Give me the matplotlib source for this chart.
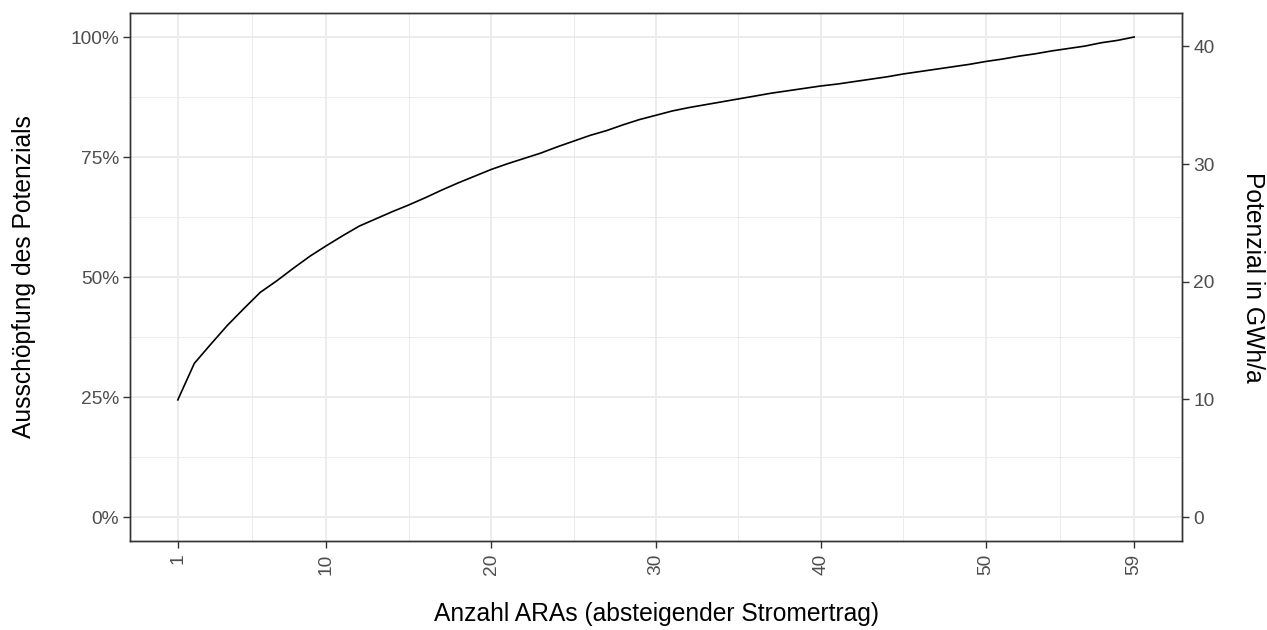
import matplotlib
matplotlib.use("Agg")
import matplotlib.pyplot as plt
from matplotlib.ticker import FixedLocator, FuncFormatter

# ---- data -------------------------------------------------------------
ara_index = list(range(1, 60))
cum_share_pct = [
    24.4, 32.0, 36.0, 39.9, 43.4, 46.8, 49.2, 51.8, 54.3, 56.5,
    58.6, 60.6, 62.1, 63.6, 65.0, 66.5, 68.1, 69.6, 71.0, 72.4,
    73.6, 74.7, 75.8, 77.1, 78.3, 79.5, 80.5, 81.7, 82.8, 83.7,
    84.6, 85.3, 85.9, 86.5, 87.1, 87.7, 88.3, 88.8, 89.3, 89.8,
    90.2, 90.7, 91.2, 91.7, 92.3, 92.8, 93.3, 93.8, 94.3, 94.9,
    95.4, 96.0, 96.5, 97.1, 97.6, 98.1, 98.8, 99.3, 100.0,
]
total_gwh = 40.8
x_ticks = [1, 10, 20, 30, 40, 50, 59]
x_minor = [5.5, 15, 25, 35, 45, 54.5]
y_ticks_pct = [0, 25, 50, 75, 100]
y_minor_pct = [12.5, 37.5, 62.5, 87.5]
gwh_ticks = [0, 10, 20, 30, 40]

x_title = "Anzahl ARAs (absteigender Stromertrag)"
y_title = "Ausschöpfung des Potenzials"
y2_title = "Potenzial in GWh/a"

# ---- style ------------------------------------------------------------
plt.rcParams["font.family"] = ["Liberation Sans", "DejaVu Sans"]
tick_color = "#4D4D4D"
frame_color = "#333333"
grid_color = "#EBEBEB"
tick_size = 13.8
title_size = 17.7

fig = plt.figure(figsize=(12.67, 6.30), dpi=100)
ax = fig.add_axes([130 / 1267, 1 - 541 / 630, 1052 / 1267, 528 / 630])

y_frac = [v / 100 for v in cum_share_pct]
ax.plot(ara_index, y_frac, color="black", lw=1.2, zorder=3)

xmin, xmax = 1, 59
xr = xmax - xmin
ax.set_xlim(xmin - 0.05 * xr, xmax + 0.05 * xr)
ax.set_ylim(-0.05, 1.05)

ax.xaxis.set_major_locator(FixedLocator(x_ticks))
ax.xaxis.set_minor_locator(FixedLocator(x_minor))
ax.yaxis.set_major_locator(FixedLocator([t / 100 for t in y_ticks_pct]))
ax.yaxis.set_minor_locator(FixedLocator([t / 100 for t in y_minor_pct]))
ax.yaxis.set_major_formatter(FuncFormatter(lambda v, p: f"{v*100:.0f}%"))

ax.grid(which="major", color=grid_color, lw=1.3, zorder=0)
ax.grid(which="minor", color=grid_color, lw=0.7, zorder=0)
ax.set_axisbelow(True)

for s in ax.spines.values():
    s.set_color(frame_color)
    s.set_linewidth(1.0)

ax.tick_params(axis="both", which="major", length=5, width=1.0, color=frame_color,
               labelcolor=tick_color, labelsize=tick_size)
ax.tick_params(axis="both", which="minor", length=0)
ax.tick_params(axis="x", pad=4)
ax.tick_params(axis="y", pad=3)
for lab in ax.get_xticklabels():
    lab.set_rotation(90)
    lab.set_ha("center")
    lab.set_va("top")

# secondary axis (GWh/a)
ax2 = ax.twinx()
ax2.set_ylim(-0.05 * total_gwh, 1.05 * total_gwh)
ax2.yaxis.set_major_locator(FixedLocator(gwh_ticks))
ax2.tick_params(axis="y", length=5, width=1.0, color=frame_color,
                labelcolor=tick_color, labelsize=tick_size, pad=3)
for s in ax2.spines.values():
    s.set_color(frame_color)
    s.set_linewidth(1.0)

ax.set_xlabel(x_title, fontsize=title_size, color="black")
ax.xaxis.set_label_coords(0.5, (541 - 614) / 528)
ax.xaxis.label.set_va("center")

ax.set_ylabel(y_title, fontsize=title_size, color="black")
ax.yaxis.set_label_coords((24 - 130) / 1052, 0.5)
ax.yaxis.label.set_va("center")

ax2.set_ylabel(y2_title, fontsize=title_size, color="black", rotation=270)
ax2.yaxis.set_label_coords((1253 - 130) / 1052, 0.5)
ax2.yaxis.label.set_va("center")

fig.savefig("out.png", dpi=100)
